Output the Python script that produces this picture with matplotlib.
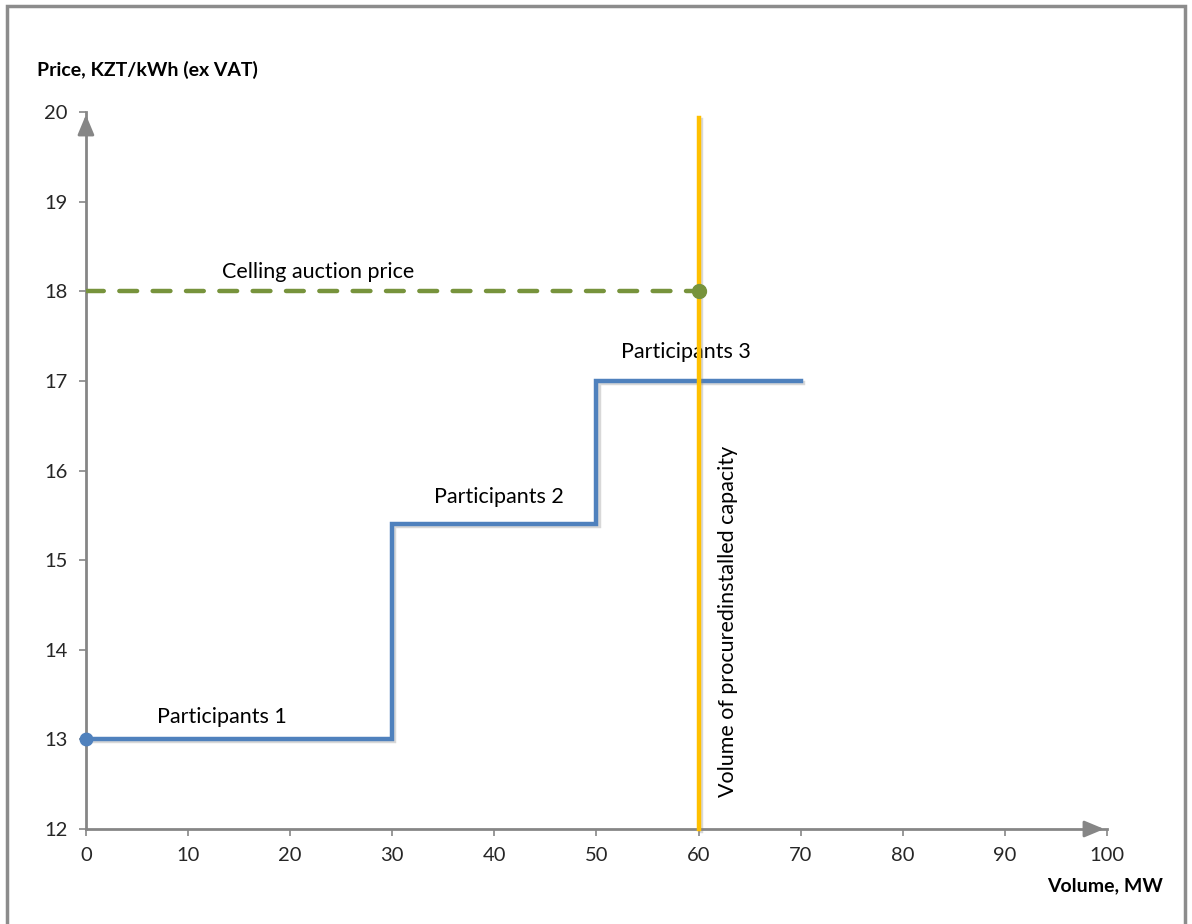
import matplotlib.pyplot as plt
import matplotlib.patheffects as pe
from matplotlib.patches import Rectangle

plt.rcParams['font.family'] = ['Lato', 'DejaVu Sans']

# stepped supply curve of participants
step_x = [0, 30, 30, 50, 50, 70]
step_y = [13, 13, 15.4, 15.4, 17, 17]
# ceiling price line
ceil_x = [0, 60]
ceil_y = [18, 18]
ceil_price = 18
# procured volume
procured_mw = 60

part_labels = ['Participants 1', 'Participants 2', 'Participants 3']
part_pos = [(13.3, 13.245), (40.4, 15.705), (58.8, 17.32)]

x_ticks = list(range(0, 101, 10))
y_ticks = list(range(12, 21))

blue = '#4F81BD'
green = '#77933C'
yellow = '#FFC000'
axis_gray = '#868686'

fig = plt.figure(figsize=(11.92, 9.24), dpi=100)
fig.patches.append(Rectangle((0.006, -0.01), 0.988, 1.003, transform=fig.transFigure,
                             fill=False, edgecolor='#8c8c8c', linewidth=2.5))
ax = fig.add_axes([0.0721, 0.1028, 0.8566, 0.776])

shadow = [pe.SimpleLineShadow(offset=(1.5, -1.5), shadow_color='gray', alpha=0.3), pe.Normal()]

ax.plot(step_x, step_y, color=blue, linewidth=3.2, solid_joinstyle='miter', path_effects=shadow, zorder=3)
ax.plot([step_x[0]], [step_y[0]], 'o', color=blue, markersize=9, clip_on=False, zorder=4)

ax.plot(ceil_x, ceil_y, color=green, linewidth=3.2, dashes=(4, 3.5), dash_capstyle='round', zorder=3)
ax.plot([ceil_x[1]], [ceil_price], 'o', color=green, markersize=10, zorder=5)

ax.plot([procured_mw, procured_mw], [12, 19.93], color=yellow, linewidth=3.2, path_effects=shadow, clip_on=False, zorder=4)

for lab, (px, py) in zip(part_labels, part_pos):
    ax.text(px, py, lab, ha='center', va='center', fontsize=15.5)
ax.text(22.7, 18.22, 'Celling auction price', ha='center', va='center', fontsize=15.5)
ax.text(62.9, 14.32, 'Volume of procuredinstalled capacity', rotation=90, ha='center', va='center', fontsize=15.5)

ax.set_xlim(0, 100)
ax.set_ylim(12, 20)
ax.set_xticks(x_ticks)
ax.set_yticks(y_ticks)
ax.tick_params(colors=axis_gray, labelcolor='#262626', labelsize=14.5, length=5, width=1.2, pad=8)
for s in ['top', 'right']:
    ax.spines[s].set_visible(False)
for s in ['left', 'bottom']:
    ax.spines[s].set_color(axis_gray)
    ax.spines[s].set_linewidth(2)

# axis arrows
ax.annotate('', xy=(100, 12), xytext=(98, 12), annotation_clip=False,
            arrowprops=dict(arrowstyle='-|>,head_length=1.2,head_width=0.5', color=axis_gray, lw=2))
ax.annotate('', xy=(0, 20), xytext=(0, 19.8), annotation_clip=False,
            arrowprops=dict(arrowstyle='-|>,head_length=1.2,head_width=0.5', color=axis_gray, lw=2))

fig.text(37 / 1192, 1 - 70 / 924, 'Price, KZT/kWh (ex VAT)', fontsize=14, fontweight='bold', va='center', ha='left')
fig.text(1163 / 1192, 1 - 886 / 924, 'Volume, MW', fontsize=14, fontweight='bold', va='center', ha='right')

fig.savefig('out.png', dpi=100)
